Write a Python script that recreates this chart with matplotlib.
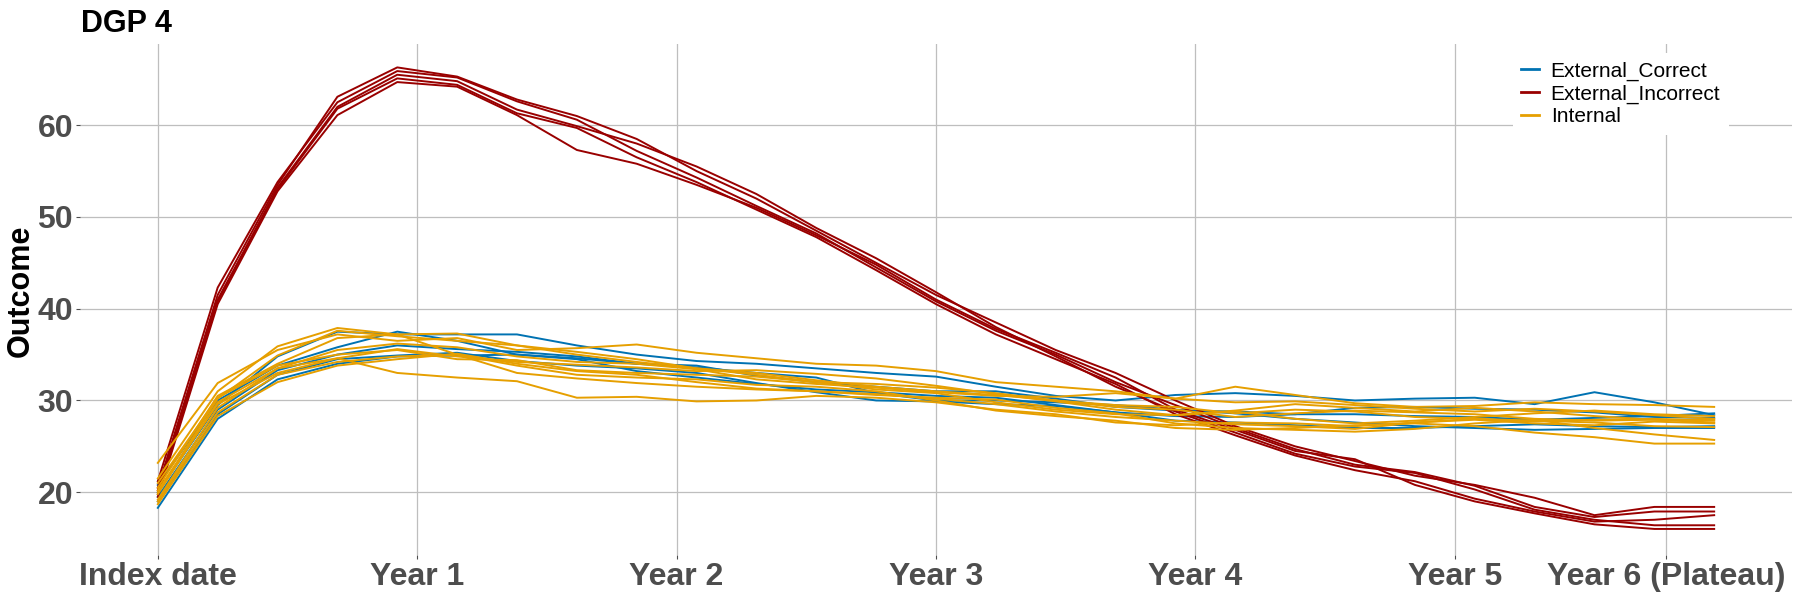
import numpy as np
import matplotlib
matplotlib.use('Agg')
import matplotlib.pyplot as plt

plt.rcParams['font.family'] = ['Liberation Sans', 'DejaVu Sans']

# visits (0 = index date ... 26 = end of year 6)
visits = list(range(27))
tick_pos = [0, 26/6, 2*26/6, 3*26/6, 4*26/6, 5*26/6, 25.2]
tick_labels = ['Index date', 'Year 1', 'Year 2', 'Year 3', 'Year 4', 'Year 5', 'Year 6 (Plateau)']

ext_correct = [
    [18.3, 28.0, 32.3, 34.0, 34.8, 34.9, 35.0, 34.6, 34.0, 33.6, 33.0, 32.5, 30.8, 30.0, 30.0, 29.8, 29.5, 29.0, 28.6, 28.0, 27.6, 27.2, 27.0, 26.8, 26.9, 27.0, 27.0],
    [20.0, 29.5, 34.8, 37.5, 37.2, 37.2, 37.2, 36.0, 35.0, 34.3, 34.0, 33.5, 33.0, 32.6, 31.5, 30.5, 30.0, 30.6, 30.8, 30.5, 30.0, 30.2, 30.3, 29.6, 30.9, 29.8, 28.4],
    [19.5, 29.0, 33.3, 35.0, 36.0, 35.6, 35.3, 34.8, 34.0, 33.8, 32.7, 32.0, 31.5, 31.0, 31.0, 30.2, 29.3, 28.9, 28.8, 28.5, 28.5, 28.3, 28.2, 27.9, 28.1, 28.3, 28.6],
    [20.8, 30.0, 33.8, 35.8, 37.5, 36.5, 35.0, 34.5, 33.2, 32.5, 31.8, 31.2, 30.9, 30.5, 30.3, 29.5, 28.7, 28.3, 28.2, 28.5, 29.2, 29.3, 29.1, 29.0, 28.7, 28.2, 28.1],
    [19.0, 28.5, 32.8, 34.5, 34.9, 35.2, 34.3, 33.8, 33.5, 33.0, 31.9, 30.9, 30.0, 29.9, 29.6, 29.4, 28.7, 27.8, 27.6, 27.3, 27.0, 27.0, 27.2, 27.4, 27.2, 27.1, 27.2],
]

ext_incorrect = [
    [20.5, 41.5, 53.5, 63.1, 66.3, 65.3, 62.8, 61.0, 58.5, 55.0, 52.0, 48.5, 45.0, 41.5, 38.5, 35.5, 33.0, 30.0, 27.2, 25.0, 23.4, 21.8, 20.8, 19.4, 17.5, 18.4, 18.4],
    [21.2, 42.3, 53.8, 62.5, 65.9, 65.2, 62.6, 60.6, 57.2, 54.3, 51.2, 48.2, 44.5, 40.8, 37.6, 35.0, 32.0, 29.5, 27.0, 24.7, 23.0, 22.2, 20.7, 18.4, 17.3, 17.9, 17.9],
    [19.8, 40.8, 53.2, 62.0, 65.5, 64.8, 61.7, 59.9, 58.0, 55.5, 52.5, 48.8, 45.5, 41.8, 38.0, 34.8, 31.5, 28.8, 26.5, 24.2, 22.8, 22.1, 20.3, 18.1, 17.0, 16.4, 16.4],
    [20.2, 41.0, 53.0, 61.8, 65.1, 64.4, 61.3, 59.7, 56.5, 53.8, 50.8, 47.8, 44.2, 40.5, 37.2, 34.5, 31.8, 28.5, 26.2, 24.0, 22.4, 21.2, 19.3, 17.9, 16.8, 17.0, 17.5],
    [19.5, 40.5, 52.8, 61.1, 64.7, 64.2, 61.1, 57.3, 55.8, 53.5, 51.0, 48.0, 44.8, 41.0, 37.8, 35.2, 32.5, 29.0, 26.8, 24.5, 23.6, 20.8, 19.0, 17.7, 16.5, 16.0, 16.0],
]

internal = [
    [23.2, 31.9, 35.5, 37.2, 36.5, 36.8, 35.5, 35.7, 36.1, 35.2, 34.6, 34.0, 33.8, 33.2, 32.0, 31.5, 31.0, 30.2, 31.5, 30.6, 29.7, 29.3, 29.4, 29.8, 29.6, 29.5, 29.3],
    [21.5, 31.0, 35.9, 37.9, 37.2, 37.3, 36.0, 35.0, 34.2, 33.5, 33.0, 32.2, 31.5, 31.0, 30.6, 30.0, 29.5, 29.3, 28.6, 29.0, 28.8, 28.2, 28.0, 27.7, 27.9, 28.0, 27.8],
    [20.0, 30.2, 34.9, 37.6, 37.0, 36.5, 36.0, 35.3, 34.5, 33.5, 32.8, 32.0, 31.2, 30.8, 29.8, 29.0, 28.5, 28.4, 28.8, 28.0, 27.5, 27.8, 28.2, 28.6, 28.9, 28.5, 28.3],
    [19.2, 29.2, 33.5, 35.5, 36.2, 35.8, 34.8, 34.2, 34.0, 33.4, 32.3, 31.8, 31.4, 30.9, 30.5, 30.4, 30.8, 30.2, 29.8, 29.9, 29.5, 29.1, 28.8, 29.1, 28.8, 28.4, 28.0],
    [19.8, 29.8, 33.5, 34.6, 33.0, 32.5, 32.1, 30.3, 30.4, 29.9, 30.0, 30.5, 30.3, 29.8, 29.0, 28.5, 27.6, 27.3, 27.6, 27.5, 27.2, 27.6, 27.9, 27.5, 27.3, 27.7, 27.5],
    [20.5, 30.5, 34.0, 36.8, 37.2, 35.0, 33.8, 32.8, 32.5, 32.3, 31.7, 31.5, 31.0, 30.0, 28.9, 28.3, 27.8, 27.0, 26.8, 27.0, 27.3, 27.5, 27.2, 26.5, 26.0, 25.3, 25.3],
    [19.0, 28.7, 32.8, 34.2, 34.8, 35.0, 33.0, 32.4, 31.9, 31.5, 31.2, 31.0, 30.6, 30.3, 30.1, 29.2, 28.6, 27.5, 27.0, 26.8, 26.6, 26.9, 27.5, 27.9, 27.0, 26.3, 25.7],
    [21.0, 30.3, 33.8, 35.0, 35.5, 34.5, 34.4, 33.3, 33.0, 32.8, 32.6, 32.0, 31.8, 31.4, 30.8, 30.0, 29.3, 29.0, 28.2, 28.6, 28.9, 28.7, 28.5, 28.0, 27.8, 27.9, 27.9],
    [20.2, 29.6, 33.0, 34.6, 35.6, 34.8, 34.2, 33.9, 33.6, 33.2, 33.3, 32.9, 32.4, 31.6, 30.7, 29.9, 29.0, 28.4, 28.9, 29.6, 29.2, 28.8, 29.2, 28.8, 28.3, 27.9, 27.6],
    [18.7, 28.3, 32.0, 33.8, 34.5, 35.1, 34.0, 33.2, 32.8, 32.0, 31.3, 31.0, 30.7, 30.2, 29.6, 28.8, 28.2, 27.8, 27.4, 27.2, 26.9, 27.6, 28.0, 27.8, 27.6, 27.2, 27.1],
]

col_correct = '#0072B2'
col_incorrect = '#990000'
col_internal = '#E69F00'

fig = plt.figure(figsize=(18, 6), dpi=100)
ax = fig.add_axes([80/1800, 1 - 555/600, 1712/1800, 511/600])

lw = 1.4
for i, y in enumerate(ext_correct):
    ax.plot(visits, y, color=col_correct, lw=lw, label='External_Correct' if i == 0 else None)
for i, y in enumerate(ext_incorrect):
    ax.plot(visits, y, color=col_incorrect, lw=lw, label='External_Incorrect' if i == 0 else None)
for i, y in enumerate(internal):
    ax.plot(visits, y, color=col_internal, lw=lw, label='Internal' if i == 0 else None)

ax.set_xlim(-1.3, 27.3)
ax.set_ylim(13.16, 68.85)
ax.set_xticks(tick_pos)
ax.set_xticklabels(tick_labels)
ax.set_yticks([20, 30, 40, 50, 60])

for s in ax.spines.values():
    s.set_visible(False)
ax.grid(True, color='#BEBEBE', lw=0.9)
ax.set_axisbelow(True)
ax.tick_params(axis='both', length=3, width=0.8, color='#4D4D4D',
               labelcolor='#4D4D4D', labelsize=23, pad=2)
for lab in ax.get_xticklabels() + ax.get_yticklabels():
    lab.set_fontweight('bold')

fig.text(81/1800, 1 - 31.7/600, 'DGP 4', fontsize=22, fontweight='bold',
         ha='left', va='baseline', color='black')
fig.text(21/1800, 1 - 291/600, 'Outcome', fontsize=22, fontweight='bold',
         rotation=90, ha='center', va='center', color='black')

leg = ax.legend(loc='upper left', bbox_to_anchor=((1513 - 80)/1712, 1 - 9/511),
                fontsize=15, frameon=True, fancybox=False, framealpha=1,
                edgecolor='none', facecolor='white', handlelength=0.86,
                handletextpad=0.55, labelspacing=0.18, borderpad=0.4,
                borderaxespad=0)
for line in leg.get_lines():
    line.set_linewidth(2)

fig.savefig('out.png', dpi=100)
